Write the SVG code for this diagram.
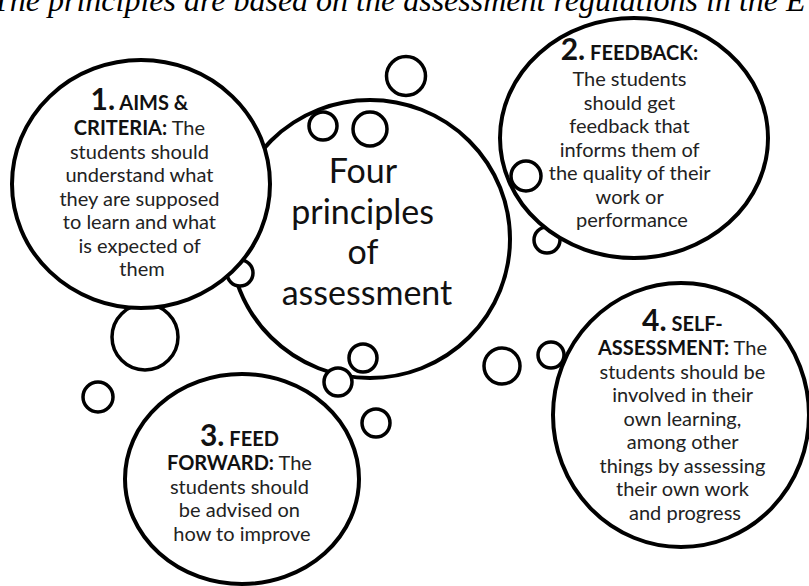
<svg xmlns="http://www.w3.org/2000/svg" width="809" height="586" viewBox="0 0 809 586">
  <style>
    .ring { fill: #ffffff; stroke: #000000; stroke-width: 4; }
    .bub { fill: #ffffff; stroke: #000000; stroke-width: 3.5; }
    .body { font-family: Lato, "Noto Sans", sans-serif; font-size: 20px; fill: #222222; text-anchor: middle; }
    .hd { font-weight: 700; fill: #111111; }
    .num { font-size: 30px; font-weight: 700; fill: #111111; }
    .core { font-family: Lato, "Noto Sans", sans-serif; font-size: 34px; fill: #111111; text-anchor: middle; }
    .title { font-family: "Liberation Serif", "Times New Roman", serif; font-style: italic; font-size: 32px; fill: #000000; }
  </style>

  <text class="title" x="-8" y="11">The principles are based on the assessment regulations in the E</text>

  <!-- central idea -->
  <g id="center">
    <ellipse class="ring" cx="370" cy="239" rx="140" ry="139"/>
    <text class="core">
      <tspan x="367" y="183">Four</tspan>
      <tspan x="367" y="224">principles</tspan>
      <tspan x="367" y="264">of</tspan>
      <tspan x="367" y="305">assessment</tspan>
    </text>
  </g>

  <!-- bubbles tucked behind the first principle -->
  <g id="bubbles-back-1">
    <circle class="bub" cx="323" cy="126" r="14"/>
    <circle class="bub" cx="370" cy="129" r="17"/>
    <circle class="bub" cx="240" cy="273" r="13"/>
    <circle class="bub" cx="145" cy="337" r="33"/>
  </g>

  <g id="aims-criteria">
    <ellipse class="ring" cx="141" cy="184" rx="129" ry="124"/>
    <text class="body">
      <tspan x="142" y="110"><tspan class="num">1.</tspan><tspan class="hd"> AIMS &amp;</tspan></tspan>
      <tspan x="142" y="135"><tspan class="hd">CRITERIA:</tspan> The</tspan>
      <tspan x="142" y="158.5">students should</tspan>
      <tspan x="142" y="182">understand what</tspan>
      <tspan x="142" y="205.5">they are supposed</tspan>
      <tspan x="142" y="229">to learn and what</tspan>
      <tspan x="142" y="252.5">is expected of</tspan>
      <tspan x="142" y="276">them</tspan>
    </text>
  </g>

  <g id="bubbles-back-2">
    <circle class="bub" cx="547" cy="240" r="13"/>
  </g>

  <g id="feedback">
    <ellipse class="ring" cx="634" cy="138" rx="134" ry="120"/>
    <text class="body">
      <tspan x="632" y="60"><tspan class="num">2.</tspan><tspan class="hd"> FEEDBACK:</tspan></tspan>
      <tspan x="632" y="86">The students</tspan>
      <tspan x="632" y="109.5">should get</tspan>
      <tspan x="632" y="133">feedback that</tspan>
      <tspan x="632" y="156.5">informs them of</tspan>
      <tspan x="632" y="180">the quality of their</tspan>
      <tspan x="632" y="203.5">work or</tspan>
      <tspan x="632" y="227">performance</tspan>
    </text>
  </g>

  <g id="bubbles-mid">
    <circle class="bub" cx="526" cy="176" r="15"/>
    <circle class="bub" cx="551" cy="355" r="13"/>
  </g>

  <g id="self-assessment">
    <ellipse class="ring" cx="681" cy="415" rx="128" ry="132"/>
    <text class="body">
      <tspan x="685" y="331"><tspan class="num">4.</tspan><tspan class="hd"> SELF-</tspan></tspan>
      <tspan x="685" y="355"><tspan class="hd">ASSESSMENT:</tspan> The</tspan>
      <tspan x="685" y="378.5">students should be</tspan>
      <tspan x="685" y="402">involved in their</tspan>
      <tspan x="685" y="425.5">own learning,</tspan>
      <tspan x="685" y="449">among other</tspan>
      <tspan x="685" y="472.5">things by assessing</tspan>
      <tspan x="685" y="496">their own work</tspan>
      <tspan x="685" y="519.5">and progress</tspan>
    </text>
  </g>

  <g id="feed-forward">
    <ellipse class="ring" cx="242" cy="479" rx="117" ry="105"/>
    <text class="body">
      <tspan x="242" y="446"><tspan class="num">3.</tspan><tspan class="hd"> FEED</tspan></tspan>
      <tspan x="242" y="470"><tspan class="hd">FORWARD:</tspan> The</tspan>
      <tspan x="242" y="493.5">students should</tspan>
      <tspan x="242" y="517">be advised on</tspan>
      <tspan x="242" y="540.5">how to improve</tspan>
    </text>
  </g>

  <!-- free-floating bubbles -->
  <g id="bubbles-front">
    <circle class="bub" cx="406" cy="76" r="19.5"/>
    <circle class="bub" cx="98" cy="397" r="15"/>
    <circle class="bub" cx="363" cy="358" r="14"/>
    <circle class="bub" cx="338" cy="382" r="14"/>
    <circle class="bub" cx="376" cy="423" r="14"/>
    <circle class="bub" cx="502" cy="366" r="18"/>
  </g>
</svg>
